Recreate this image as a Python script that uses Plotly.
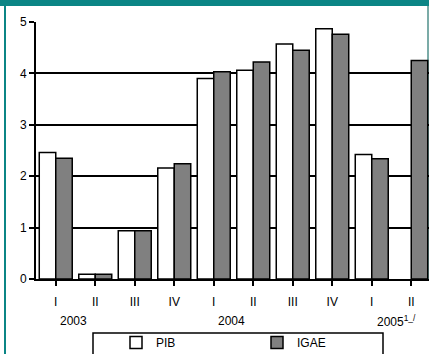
import plotly.graph_objects as go

# Quarterly annual growth, %
quarters = ["I", "II", "III", "IV", "I", "II", "III", "IV", "I", "II"]
pib = [2.46, 0.09, 0.94, 2.16, 3.90, 4.06, 4.57, 4.87, 2.42, None]
igae = [2.35, 0.09, 0.94, 2.24, 4.03, 4.22, 4.45, 4.76, 2.34, 4.25]
years = ["2003", "2004", "2005<sup>1_/</sup>"]
year_pos = [0.46, 4.44, 8.62]

W, H = 429, 354
ML, MR, MT, MB = 36, 0, 22, 75
PW, PH = W - ML - MR, H - MT - MB
TEAL = "#0b8585"
FONT = "Liberation Sans, Arial, sans-serif"


def px_x(px):
    return (px - ML) / PW


def px_y(py):
    return (H - MB - py) / PH


xs = list(range(len(quarters)))

fig = go.Figure()
fig.add_trace(go.Bar(
    x=xs, y=pib, name="PIB",
    marker=dict(color="white", line=dict(color="black", width=1.5)),
))
fig.add_trace(go.Bar(
    x=xs, y=igae, name="IGAE",
    marker=dict(color="#808080", line=dict(color="black", width=1.5)),
))

annotations = [
    dict(x=xp, y=px_y(321), xref="x", yref="paper", text=t, showarrow=False,
         xanchor="center", yanchor="middle",
         font=dict(family=FONT, size=12, color="black"))
    for t, xp in zip(years, year_pos)
]

shapes = [
    # teal frame
    dict(type="rect", xref="paper", yref="paper", x0=px_x(0), x1=px_x(W + 2),
         y0=px_y(6), y1=px_y(-2), fillcolor=TEAL, line=dict(width=0), layer="above"),
    dict(type="line", xref="paper", yref="paper", x0=px_x(5), x1=px_x(5),
         y0=px_y(6), y1=px_y(H + 2), line=dict(color=TEAL, width=2)),
    dict(type="line", xref="paper", yref="paper", x0=px_x(428), x1=px_x(428),
         y0=px_y(6), y1=px_y(279), line=dict(color="#4f8f8a", width=1.5), layer="below"),
    # legend box
    dict(type="rect", xref="paper", yref="paper", x0=px_x(93), x1=px_x(383),
         y0=px_y(333), y1=px_y(H + 10), line=dict(color="black", width=1.5),
         fillcolor="rgba(0,0,0,0)"),
]

fig.update_layout(
    width=W, height=H,
    margin=dict(l=ML, r=MR, t=MT, b=MB, pad=0, autoexpand=False),
    paper_bgcolor="white", plot_bgcolor="white",
    barmode="group", bargap=0.165, bargroupgap=0,
    font=dict(family=FONT, size=12, color="black"),
    showlegend=True,
    legend=dict(
        orientation="h", x=px_x(116), y=px_y(328), xanchor="left", yanchor="top",
        entrywidth=96, entrywidthmode="pixels",
        bgcolor="rgba(0,0,0,0)", borderwidth=0,
        font=dict(family=FONT, size=12, color="black"),
        traceorder="normal",
    ),
    xaxis=dict(
        tickmode="array", tickvals=xs, ticktext=quarters,
        range=[-0.5, -0.5 + PW / 39.5],
        showgrid=False, zeroline=False,
        showline=True, linecolor="black", linewidth=2,
        ticks="outside", tickson="boundaries", ticklen=5, tickwidth=1.5,
        tickcolor="black", ticklabelstandoff=6,
        tickfont=dict(family=FONT, size=12, color="black"),
    ),
    yaxis=dict(
        range=[0, 5], dtick=1, tick0=0,
        showgrid=True, gridcolor="black", gridwidth=1.5,
        zeroline=False,
        showline=True, linecolor="black", linewidth=2,
        ticks="outside", ticklen=5, tickwidth=1.5, tickcolor="black",
        ticklabelstandoff=0,
        tickfont=dict(family=FONT, size=12, color="black"),
    ),
    annotations=annotations,
    shapes=shapes,
)

fig.write_html("out.html")
